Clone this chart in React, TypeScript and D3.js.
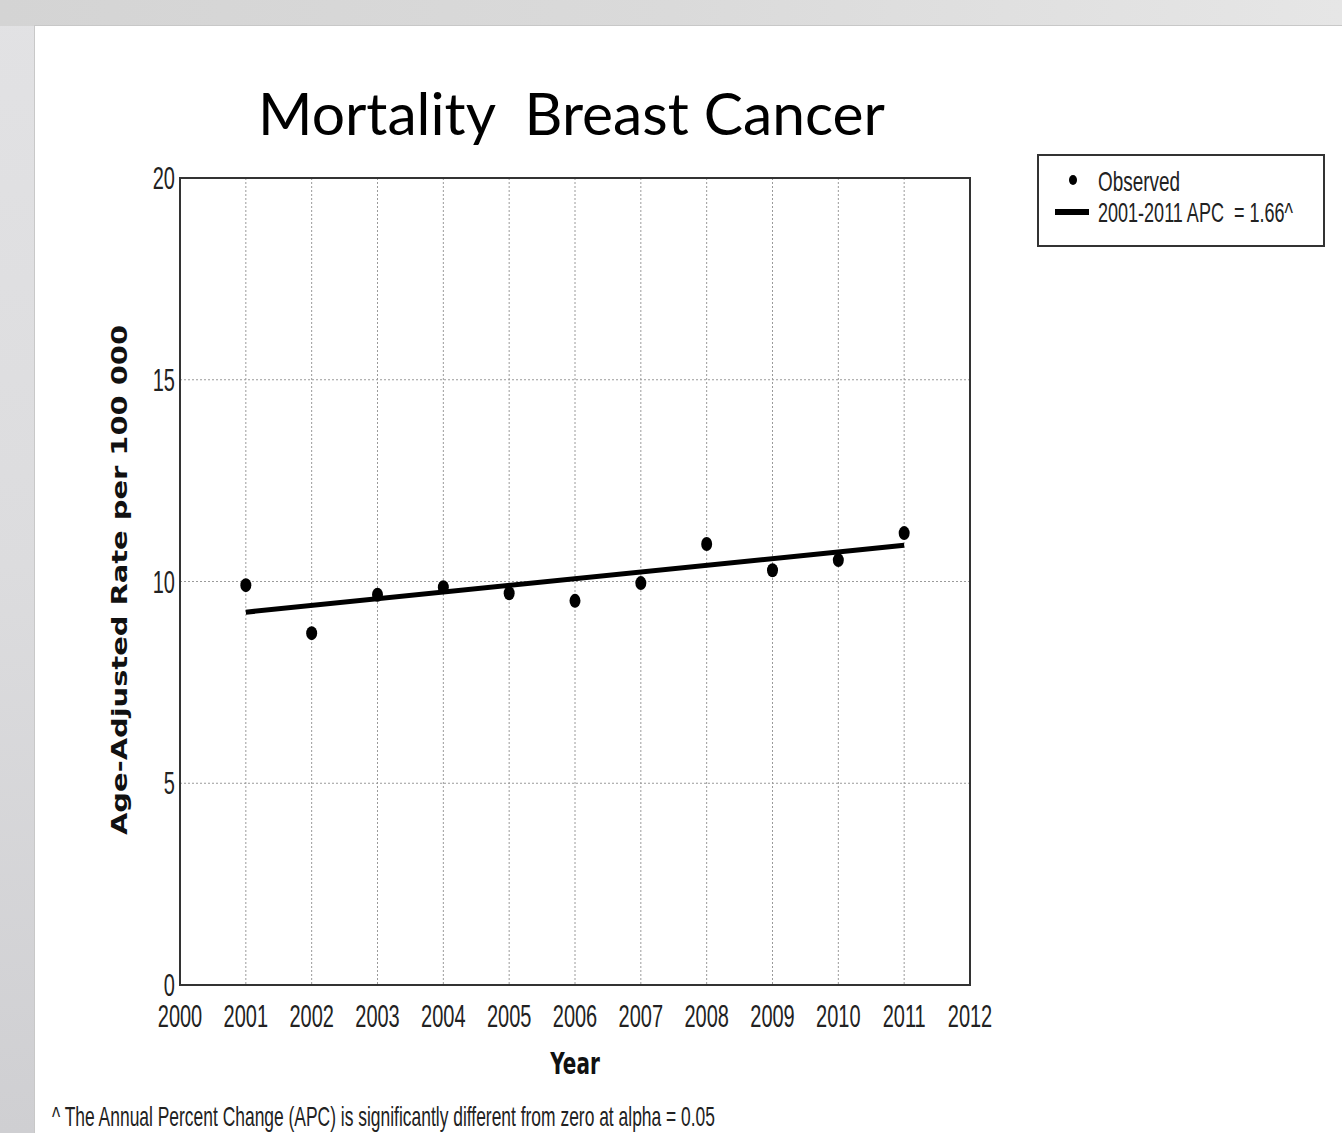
import React from "react";
import * as d3 from "d3";

const years = [2001, 2002, 2003, 2004, 2005, 2006, 2007, 2008, 2009, 2010, 2011];
const observed = [9.91, 8.72, 9.67, 9.86, 9.71, 9.52, 9.96, 10.93, 10.28, 10.53, 11.2];
const fitYears = [2001, 2011];
const fitValues = [9.24, 10.9];
const xTicks = [2000, 2001, 2002, 2003, 2004, 2005, 2006, 2007, 2008, 2009, 2010, 2011, 2012];
const yTicks = [0, 5, 10, 15, 20];
const gridX = [2001, 2002, 2003, 2004, 2005, 2006, 2007, 2008, 2009, 2010, 2011];
const gridY = [5, 10, 15];

const W = 1342;
const H = 1133;
const plot = { left: 180, right: 970, top: 178, bottom: 985 };
const SY = 1.55;

function SText(props: any) {
  const { x, y, sy = SY, children, ...rest } = props;
  return (
    <text transform={`translate(${x},${y}) scale(1,${sy})`} {...rest}>
      {children}
    </text>
  );
}

export default function App() {
  const x = d3.scaleLinear().domain([2000, 2012]).range([plot.left, plot.right]);
  const y = d3.scaleLinear().domain([0, 20]).range([plot.bottom, plot.top]);
  const line = d3
    .line<number>()
    .x((_, i) => x(fitYears[i]))
    .y((d) => y(d));
  const narrow = "'Liberation Sans Narrow', 'Liberation Sans', Arial, sans-serif";
  return (
    <svg
      width={W}
      height={H}
      style={{ position: "absolute", left: 0, top: 0, display: "block" }}
    >
      <defs>
        <linearGradient id="bgTop" x1="0" x2="1" y1="0" y2="0">
          <stop offset="0" stopColor="#d4d4d4" />
          <stop offset="0.5" stopColor="#dadada" />
          <stop offset="1" stopColor="#e6e6e6" />
        </linearGradient>
        <linearGradient id="bgLeft" x1="0" x2="0" y1="0" y2="1">
          <stop offset="0" stopColor="#e2e2e4" />
          <stop offset="0.5" stopColor="#dcdcde" />
          <stop offset="1" stopColor="#cfcfd2" />
        </linearGradient>
      </defs>
      <rect x={0} y={0} width={W} height={H} fill="url(#bgLeft)" />
      <rect x={0} y={0} width={W} height={26} fill="url(#bgTop)" />
      <rect x={34} y={25} width={W - 34} height={H - 25} fill="#c8c8c8" />
      <rect x={35} y={26} width={W - 35} height={H - 26} fill="#ffffff" />

      {/* Title */}
      <text
        x={258}
        y={135}
        fontFamily="Lato, 'Open Sans', sans-serif"
        fontSize={58}
        textLength={627}
        lengthAdjust="spacingAndGlyphs"
        style={{ whiteSpace: "pre" }}
        fill="#000"
      >
        Mortality  Breast Cancer
      </text>

      {/* grid */}
      {gridX.map((g) => (
        <line
          key={"gx" + g}
          x1={x(g)}
          x2={x(g)}
          y1={plot.top}
          y2={plot.bottom}
          stroke="#9a9a9a"
          strokeWidth={1}
          strokeDasharray="2,2"
        />
      ))}
      {gridY.map((g) => (
        <line
          key={"gy" + g}
          x1={plot.left}
          x2={plot.right}
          y1={y(g)}
          y2={y(g)}
          stroke="#9a9a9a"
          strokeWidth={1}
          strokeDasharray="2,2"
        />
      ))}

      {/* frame */}
      <rect
        x={plot.left}
        y={plot.top}
        width={plot.right - plot.left}
        height={plot.bottom - plot.top}
        fill="none"
        stroke="#333"
        strokeWidth={2}
      />

      {/* fit line */}
      <path d={line(fitValues) || ""} fill="none" stroke="#000" strokeWidth={5} />

      {/* observed */}
      {observed.map((v, i) => (
        <ellipse key={"o" + i} cx={x(years[i])} cy={y(v)} rx={5.5} ry={7} fill="#000" />
      ))}

      {/* x ticks */}
      {xTicks.map((t) => (
        <SText
          key={"xt" + t}
          x={x(t)}
          y={1027}
          textAnchor="middle"
          fontFamily={narrow}
          fontSize={20}
          fill="#222"
        >
          {String(t)}
        </SText>
      ))}
      {/* y ticks */}
      {yTicks.map((t) => (
        <SText
          key={"yt" + t}
          x={175}
          y={y(t) + 11}
          textAnchor="end"
          fontFamily={narrow}
          fontSize={20}
          fill="#222"
        >
          {String(t)}
        </SText>
      ))}

      {/* axis titles */}
      <SText
        x={575}
        y={1074}
        textAnchor="middle"
        fontFamily="'DejaVu Sans', Verdana, sans-serif"
        fontWeight="bold"
        fontSize={20}
        sy={1.5}
        fill="#111"
      >
        Year
      </SText>
      <text
        transform={`translate(127,580) rotate(-90)`}
        textAnchor="middle"
        fontFamily="'DejaVu Sans', Verdana, sans-serif"
        fontWeight="bold"
        fontSize={22}
        textLength={510}
        lengthAdjust="spacingAndGlyphs"
        style={{ whiteSpace: "pre" }}
        fill="#111"
      >
        Age-Adjusted Rate per 100 000
      </text>

      {/* legend */}
      <rect x={1038} y={155} width={286} height={91} fill="#fff" stroke="#333" strokeWidth={2} />
      <ellipse cx={1073} cy={180} rx={4} ry={5} fill="#000" />
      <SText
        x={1098}
        y={191}
        sy={1.45}
        fontFamily={narrow}
        fontSize={19}
        fill="#222"
        textLength={82}
        lengthAdjust="spacingAndGlyphs"
      >
        Observed
      </SText>
      <line x1={1055} x2={1089} y1={212} y2={212} stroke="#000" strokeWidth={6} />
      <SText
        x={1098}
        y={222}
        sy={1.45}
        fontFamily={narrow}
        fontSize={19}
        fill="#222"
        textLength={195}
        lengthAdjust="spacingAndGlyphs"
        style={{ whiteSpace: "pre" }}
      >
        2001-2011 APC  = 1.66^
      </SText>

      {/* footnote */}
      <SText
        x={52}
        y={1126}
        sy={1.5}
        fontFamily={narrow}
        fontSize={18}
        fill="#222"
        textLength={663}
        lengthAdjust="spacingAndGlyphs"
      >
        ^ The Annual Percent Change (APC) is significantly different from zero at alpha = 0.05
      </SText>
    </svg>
  );
}
